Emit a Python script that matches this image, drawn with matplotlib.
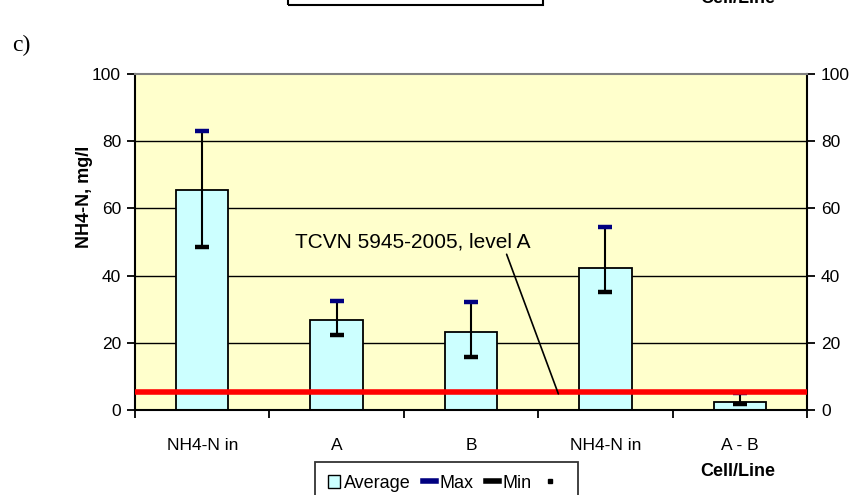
import matplotlib
matplotlib.use("Agg")
import matplotlib.pyplot as plt
from matplotlib.patches import Patch, Rectangle
from matplotlib.lines import Line2D

plt.rcParams["font.family"] = ["Liberation Sans", "DejaVu Sans"]

# data
cats = ["NH4-N in", "A", "B", "NH4-N in", "A - B"]
avg = [65.5, 26.7, 23.2, 42.4, 2.5]
max_vals = [83.0, 32.5, 32.0, 54.5, 5.0]
min_vals = [48.5, 22.4, 15.8, 35.0, 1.7]
limit_a = 5.4
y_ticks = [0, 20, 40, 60, 80, 100]

W, H = 852, 495
fig = plt.figure(figsize=(W / 100, H / 100), dpi=100)
ax = fig.add_axes([135 / W, 1 - 410 / H, (807 - 135) / W, (410 - 74) / H])
ax.set_facecolor("#FFFFCC")

xs = list(range(len(cats)))
ax.set_xlim(-0.5, len(cats) - 0.5)
ax.set_ylim(0, 100)

# gridlines
for y in y_ticks[1:-1]:
    ax.axhline(y, color="black", lw=1.0, zorder=1)

ax.bar(xs, avg, width=0.39, color="#CCFFFF", edgecolor="black", lw=1.3, zorder=2)
ax.vlines(xs, min_vals, max_vals, color="black", lw=1.5, zorder=3)
ax.plot(xs, max_vals, ls="none", marker="_", ms=10, mew=3.2, color="#000080", zorder=4)
ax.plot(xs, min_vals, ls="none", marker="_", ms=10, mew=3.2, color="black", zorder=4)

ax.axhline(limit_a, color="#FF0000", lw=4, zorder=5)

ax.annotate("TCVN 5945-2005, level A", xy=(2.65, 4.8), xytext=(0.69, 50),
            fontsize=15, va="center", ha="left",
            arrowprops=dict(arrowstyle="-", color="black", lw=1.2,
                            shrinkA=0, shrinkB=0, relpos=(0.89, 0.15)),
            zorder=6)

# ticks
ax.set_xticks([x - 0.5 for x in range(len(cats) + 1)])
ax.set_xticklabels([])
ax.set_xticks(xs, minor=True)
ax.set_xticklabels(cats, minor=True, fontsize=12.5)
ax.tick_params(axis="x", which="major", direction="out", length=6, width=1.3)
ax.tick_params(axis="x", which="minor", length=0, pad=20)
ax.set_yticks(y_ticks)
ax.tick_params(axis="y", direction="out", length=6, width=1.3, labelsize=12.5,
               left=True, right=True, labelleft=True, labelright=True, pad=4)

for side in ["left", "right", "bottom"]:
    ax.spines[side].set_color("black")
    ax.spines[side].set_linewidth(1.5)
ax.spines["top"].set_color("#808080")
ax.spines["top"].set_linewidth(1.5)

ax.set_ylabel("NH4-N, mg/l", fontsize=13, fontweight="bold")
ax.yaxis.set_label_coords(-0.0625, 0.635)
fig.text(738 / W, 1 - 472 / H, "Cell/Line", fontsize=13, fontweight="bold",
         ha="center", va="center")

# legend (cut by bottom edge)
handles = [
    Patch(facecolor="#CCFFFF", edgecolor="black", lw=1),
    Line2D([], [], color="#000080", lw=4),
    Line2D([], [], color="black", lw=4),
    Line2D([], [], ls="none", marker="s", ms=2.5, color="black"),
]
leg = fig.legend(handles, ["Average", "Max", "Min", " "], loc="upper right",
                 bbox_to_anchor=(578 / W, 1 - 462 / H), ncol=4, fontsize=13,
                 frameon=True, fancybox=False, shadow=False, borderpad=0.7,
                 handlelength=0.7, handletextpad=0.2, columnspacing=0.7,
                 borderaxespad=0)
leg.get_frame().set_edgecolor("black")
leg.get_frame().set_linewidth(1.3)

# pieces of the chart above, cropped by the top edge
fig.text(12 / W, 1 - 45 / H, "c)", fontsize=17, family="Liberation Serif",
         ha="left", va="center")
fig.add_artist(Rectangle((288 / W, 1 - 5 / H), (543 - 288) / W, 30 / H,
                         fill=False, ec="black", lw=1.5, transform=fig.transFigure,
                         clip_on=False))
fig.text(738 / W, 1 - 3 / H, "Cell/Line", fontsize=13, fontweight="bold",
         ha="center", va="baseline")

fig.savefig("out.png", dpi=100)
